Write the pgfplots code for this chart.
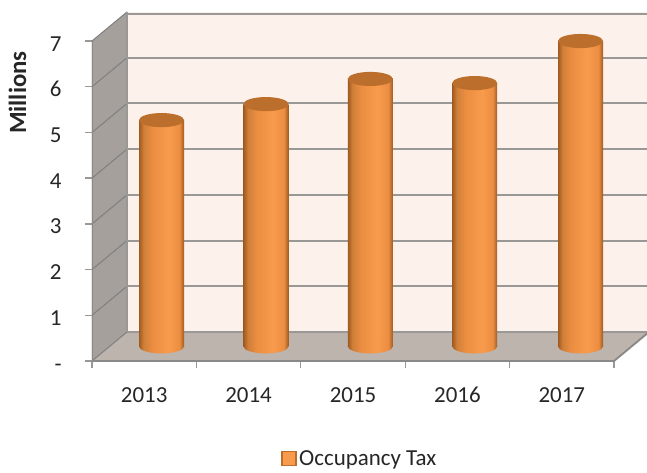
\documentclass[border=0pt]{standalone}
\usepackage{pgfplots}
\usepackage{fontspec}
\setmainfont{Carlito}
\pgfplotsset{compat=1.18}

\definecolor{wallback}{HTML}{FDF1EB}
\definecolor{wallside}{HTML}{A5A09C}
\definecolor{wallfloor}{HTML}{BDB4AE}
\definecolor{gridc}{HTML}{999896}
\definecolor{capc}{HTML}{BC6E2C}
\definecolor{txt}{HTML}{262626}
\definecolor{cylA}{HTML}{A05A20}
\definecolor{cylB}{HTML}{CF7F38}
\definecolor{cylC}{HTML}{EC8E42}
\definecolor{cylD}{HTML}{F99B4C}

\pgfdeclarehorizontalshading{cyl}{100bp}{
  color(0bp)=(cylA); color(25bp)=(cylA); color(30bp)=(cylB); color(40bp)=(cylC);
  color(58bp)=(cylD); color(70bp)=(cylC); color(75bp)=(cylA); color(100bp)=(cylA)}

\pgfdeclareplotmark{cylbase}{\shade[shading=cyl,rotate=4] (0,0) ellipse (16.9pt and 5.3pt);}
\pgfdeclareplotmark{cyltop}{\fill[capc,rotate=4] (0,0) ellipse (16.9pt and 5.3pt);}

\begin{document}
\begin{tikzpicture}[font=\fontsize{17.2}{20}\selectfont, text=txt]
\path[use as bounding box] (-69pt,-83.25pt) rectangle (416.25pt,270.75pt);

\begin{axis}[
  at={(0,0)}, anchor=south west, scale only axis,
  width=416.25pt, height=261.75pt,
  xmin=0, xmax=5.316, ymin=0, ymax=7.635,
  axis line style={draw=none},
  unbounded coords=jump,
  xtick={0,1,2,3,4,5}, xticklabels={},
  ytick={0,1,2,3,4,5,6,7},
  yticklabels={-\hspace{7pt},1,2,3,4,5,6,7},
  extra x ticks={0.5,1.5,2.5,3.5,4.5},
  extra x tick labels={2013,2014,2015,2016,2017},
  extra x tick style={major tick length=0pt, tick label style={yshift=-13.5pt}},
  tick pos=left, tick align=outside, major tick length=5.25pt,
  tick style={gridc, line width=1pt},
  typeset ticklabels with strut,
  yticklabel style={xshift=-14pt, yshift=-3.5pt},
  /pgf/number format/assume math mode=true,
  ylabel={\fontsize{18.6}{20}\selectfont\bfseries Millions},
  ylabel style={at={(rel axis cs:-0.134,0.769)}, anchor=center, rotate=0},
  legend style={at={(rel axis cs:0.483,-0.28)}, anchor=center, draw=none, fill=none, inner sep=0pt},
  legend cell align=left,
]
\addplot[forget plot, fill=wallback, draw=none] coordinates {(0.335,0.635) (6,0.635) (6,7.635) (0.335,7.635)} -- cycle;
\addplot[forget plot, fill=wallside, draw=none] coordinates {(0,0) (0.335,0.635) (0.335,7.635) (0,7)} -- cycle;
\addplot[forget plot, fill=wallfloor, draw=none] coordinates {(0,0) (5,0) (5.335,0.635) (0.335,0.635)} -- cycle;
% back wall grid
\addplot[forget plot, gridc, line width=1.5pt] coordinates {
  (0.335,0.635) (6,0.635) (nan,nan)
  (0.335,1.635) (6,1.635) (nan,nan)
  (0.335,2.635) (6,2.635) (nan,nan)
  (0.335,3.635) (6,3.635) (nan,nan)
  (0.335,4.635) (6,4.635) (nan,nan)
  (0.335,5.635) (6,5.635) (nan,nan)
  (0.335,6.635) (6,6.635) (nan,nan)
  (0.335,7.60) (6,7.60)};
% side wall grid
\addplot[forget plot, gridc!85!black, line width=0.8pt] coordinates {
  (0,0) (0.335,0.635) (nan,nan)
  (0,1) (0.335,1.635) (nan,nan)
  (0,2) (0.335,2.635) (nan,nan)
  (0,3) (0.335,3.635) (nan,nan)
  (0,4) (0.335,4.635) (nan,nan)
  (0,5) (0.335,5.635) (nan,nan)
  (0,6) (0.335,6.635) (nan,nan)
  (0,7) (0.335,7.635)};
% wall corner and front edges
\addplot[forget plot, gridc, line width=1.2pt] coordinates {(0.335,0.635) (0.335,7.635)};
\addplot[forget plot, gridc!90!black, line width=1.4pt] coordinates {(0,7) (0,0) (5,0) (5.335,0.635)};

% cylinders: base ellipse, body, cap
\addplot[forget plot, only marks, draw=none, fill=none, mark=cylbase] coordinates
  {(0.666,0.32) (1.666,0.32) (2.666,0.32) (3.666,0.32) (4.679,0.32)};
\addplot[forget plot, shading=cyl, draw=none] coordinates {(0.4505,0.32) (0.8815,0.32) (0.8815,5.27) (0.4505,5.27)} -- cycle;
\addplot[forget plot, shading=cyl, draw=none] coordinates {(1.4505,0.32) (1.8815,0.32) (1.8815,5.62) (1.4505,5.62)} -- cycle;
\addplot[forget plot, shading=cyl, draw=none] coordinates {(2.4505,0.32) (2.8815,0.32) (2.8815,6.17) (2.4505,6.17)} -- cycle;
\addplot[forget plot, shading=cyl, draw=none] coordinates {(3.4505,0.32) (3.8815,0.32) (3.8815,6.08) (3.4505,6.08)} -- cycle;
\addplot[forget plot, shading=cyl, draw=none] coordinates {(4.4635,0.32) (4.8945,0.32) (4.8945,7.00) (4.4635,7.00)} -- cycle;
\addplot[forget plot, only marks, draw=none, mark=cyltop] coordinates
  {(0.666,5.27) (1.666,5.62) (2.666,6.17) (3.666,6.08) (4.679,7.00)};
\addlegendimage{legend image code/.code={\draw[fill=cylD, draw=capc, line width=1pt] (0pt,-5.2pt) rectangle (10.5pt,5.2pt);}}
\addlegendentry{Occupancy Tax}
\end{axis}
\end{tikzpicture}
\end{document}
